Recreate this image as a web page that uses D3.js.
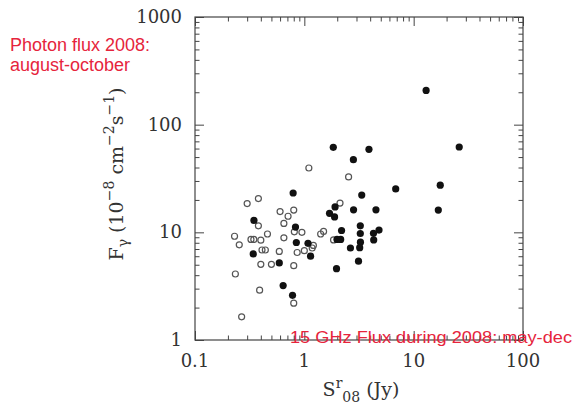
<!DOCTYPE html>
<html>
<head>
<meta charset="utf-8">
<script src="https://cdn.jsdelivr.net/npm/d3@7"></script>
<style>
  body { margin: 0; background: #fff; }
  svg { display: block; }
</style>
</head>
<body>
<script>
// filled points: [S_r (Jy), F_gamma]
const filledX = [13.0, 26.1, 1.84, 3.90, 2.81, 0.79, 3.35, 6.85, 17.5, 16.8, 2.82, 4.52, 1.91, 1.70, 1.89,
  0.346, 0.83, 2.19, 3.25, 3.25, 4.82, 4.29, 4.31, 0.845, 1.08, 1.14, 0.341, 0.59, 1.99, 2.15,
  3.26, 2.64, 3.21, 3.13, 1.97, 0.64, 0.78];
const filledY = [208, 62, 61.6, 59, 47.3, 23.2, 22.2, 25.3, 27.4, 16.1, 16.2, 16.2, 17.2, 15.0, 13.9,
  12.9, 11.2, 10.4, 11.5, 9.75, 10.5, 9.8, 8.5, 8.05, 7.9, 6.0, 6.3, 5.2, 8.6, 8.6,
  8.1, 7.15, 7.2, 5.4, 4.6, 3.2, 2.6];
// open points
const openX = [1.10, 2.54, 0.30, 0.38, 0.60, 0.80, 0.71, 2.12, 0.65, 0.38, 1.50, 1.41, 0.46, 0.81, 0.95,
  0.23, 0.254, 0.325, 0.345, 0.40, 0.65, 0.41, 0.44, 0.59, 0.86, 1.0, 1.21, 1.18, 0.40, 0.50,
  0.80, 0.234, 0.39, 0.80, 0.267, 1.85];
const openY = [39.6, 32.7, 18.5, 20.6, 15.6, 16.1, 14.1, 18.7, 12.1, 11.5, 10.2, 9.65, 9.65, 10.1, 10.0,
  9.2, 7.66, 8.6, 8.6, 8.45, 8.9, 6.85, 6.85, 6.65, 6.5, 6.75, 7.55, 7.15, 5.05, 5.05,
  4.9, 4.1, 2.9, 2.2, 1.64, 8.5];

const xTicks = [0.1, 1, 10, 100];
const yTicks = [1, 10, 100, 1000];
const xTickLabels = ["0.1", "1", "10", "100"];
const yTickLabels = ["1", "10", "100", "1000"];

const width = 574, height = 406;
const padL = 195, padR = 523, padT = 17, padB = 340;
const red = "#e6243c";
const serif = "'DejaVu Serif', 'Liberation Serif', serif";
const sans = "'Liberation Sans', Arial, sans-serif";

const svg = d3.select("body").append("svg")
  .attr("width", width)
  .attr("height", height);

const x = d3.scaleLog().domain([0.1, 100]).range([padL, padR]);
const y = d3.scaleLog().domain([1, 1000]).range([padB, padT]);

const minor = (lo, hi) => {
  let out = [];
  for (let d = lo; d < hi; d *= 10) {
    for (let k = 2; k <= 9; k++) out.push(d * k);
  }
  return out;
};
const xMinor = minor(0.1, 100);
const yMinor = minor(1, 1000);

const tickColor = "#444";

// tick marks (inside, all four sides)
const drawAxis = (axisFn, scale, vals, size, transform) => {
  const g = svg.append("g")
    .attr("transform", transform)
    .call(axisFn(scale).tickValues(vals).tickSize(size).tickFormat(""));
  g.select(".domain").remove();
  g.selectAll("line").attr("stroke", tickColor).attr("stroke-width", 1);
  return g;
};

drawAxis(d3.axisBottom, x, xTicks, -9, `translate(0,${padB})`);
drawAxis(d3.axisBottom, x, xMinor, -4.5, `translate(0,${padB})`);
drawAxis(d3.axisTop, x, xTicks, -9, `translate(0,${padT})`);
drawAxis(d3.axisTop, x, xMinor, -4.5, `translate(0,${padT})`);
drawAxis(d3.axisLeft, y, yTicks, -9, `translate(${padL},0)`);
drawAxis(d3.axisLeft, y, yMinor, -4.5, `translate(${padL},0)`);
drawAxis(d3.axisRight, y, yTicks, -9, `translate(${padR},0)`);
drawAxis(d3.axisRight, y, yMinor, -4.5, `translate(${padR},0)`);

// frame
svg.append("rect")
  .attr("x", padL).attr("y", padT)
  .attr("width", padR - padL).attr("height", padB - padT)
  .attr("fill", "none")
  .attr("stroke", tickColor)
  .attr("stroke-width", 1.2);

// tick labels
svg.selectAll(".xlab")
  .data(xTicks)
  .enter()
  .append("text")
  .attr("class", "xlab")
  .attr("x", d => x(d))
  .attr("y", 367)
  .attr("text-anchor", "middle")
  .attr("font-family", serif)
  .attr("font-size", 18)
  .attr("fill", "#333")
  .text((d, i) => xTickLabels[i]);

svg.selectAll(".ylab")
  .data(yTicks)
  .enter()
  .append("text")
  .attr("class", "ylab")
  .attr("x", 182)
  .attr("y", d => y(d) + 6)
  .attr("text-anchor", "end")
  .attr("font-family", serif)
  .attr("font-size", 18)
  .attr("fill", "#333")
  .text((d, i) => yTickLabels[i]);

// points
svg.selectAll(".open")
  .data(openX.map((v, i) => [v, openY[i]]))
  .enter()
  .append("circle")
  .attr("class", "open")
  .attr("cx", d => x(d[0]))
  .attr("cy", d => y(d[1]))
  .attr("r", 3)
  .attr("fill", "none")
  .attr("stroke", "#555")
  .attr("stroke-width", 1.2);

svg.selectAll(".filled")
  .data(filledX.map((v, i) => [v, filledY[i]]))
  .enter()
  .append("circle")
  .attr("class", "filled")
  .attr("cx", d => x(d[0]))
  .attr("cy", d => y(d[1]))
  .attr("r", 3.6)
  .attr("fill", "#111");

// axis titles
const xt = svg.append("text")
  .attr("x", 361)
  .attr("y", 396)
  .attr("text-anchor", "middle")
  .attr("font-family", serif)
  .attr("font-size", 19)
  .attr("fill", "#333");
xt.append("tspan").text("S");
xt.append("tspan").attr("font-size", 14).attr("dy", -8).text("r");
xt.append("tspan").attr("font-size", 14).attr("dy", 14).text("08");
xt.append("tspan").attr("dy", -6).text(" (Jy)");

const yt = svg.append("text")
  .attr("transform", "translate(123,174) rotate(-90)")
  .attr("text-anchor", "middle")
  .attr("font-family", serif)
  .attr("font-size", 19)
  .attr("fill", "#333");
yt.append("tspan").text("F");
yt.append("tspan").attr("font-size", 14).attr("dy", 5).text("γ");
yt.append("tspan").attr("dy", -5).text(" (10");
yt.append("tspan").attr("font-size", 14).attr("dy", -9).text("−8");
yt.append("tspan").attr("dy", 9).text(" cm");
yt.append("tspan").attr("font-size", 14).attr("dy", -9).text("−2");
yt.append("tspan").attr("dy", 9).text("s");
yt.append("tspan").attr("font-size", 14).attr("dy", -9).text("−1");
yt.append("tspan").attr("dy", 9).text(")");

// red annotations
svg.append("text")
  .attr("x", 10).attr("y", 51)
  .attr("font-family", sans)
  .attr("font-size", 18)
  .attr("fill", red)
  .text("Photon flux 2008:");
svg.append("text")
  .attr("x", 10).attr("y", 71)
  .attr("font-family", sans)
  .attr("font-size", 18)
  .attr("fill", red)
  .text("august-october");
svg.append("text")
  .attr("x", 290).attr("y", 343)
  .attr("font-family", sans)
  .attr("font-size", 17)
  .attr("textLength", 282)
  .attr("lengthAdjust", "spacingAndGlyphs")
  .attr("fill", red)
  .text("15 GHz Flux during 2008: may-dec");
</script>
</body>
</html>
